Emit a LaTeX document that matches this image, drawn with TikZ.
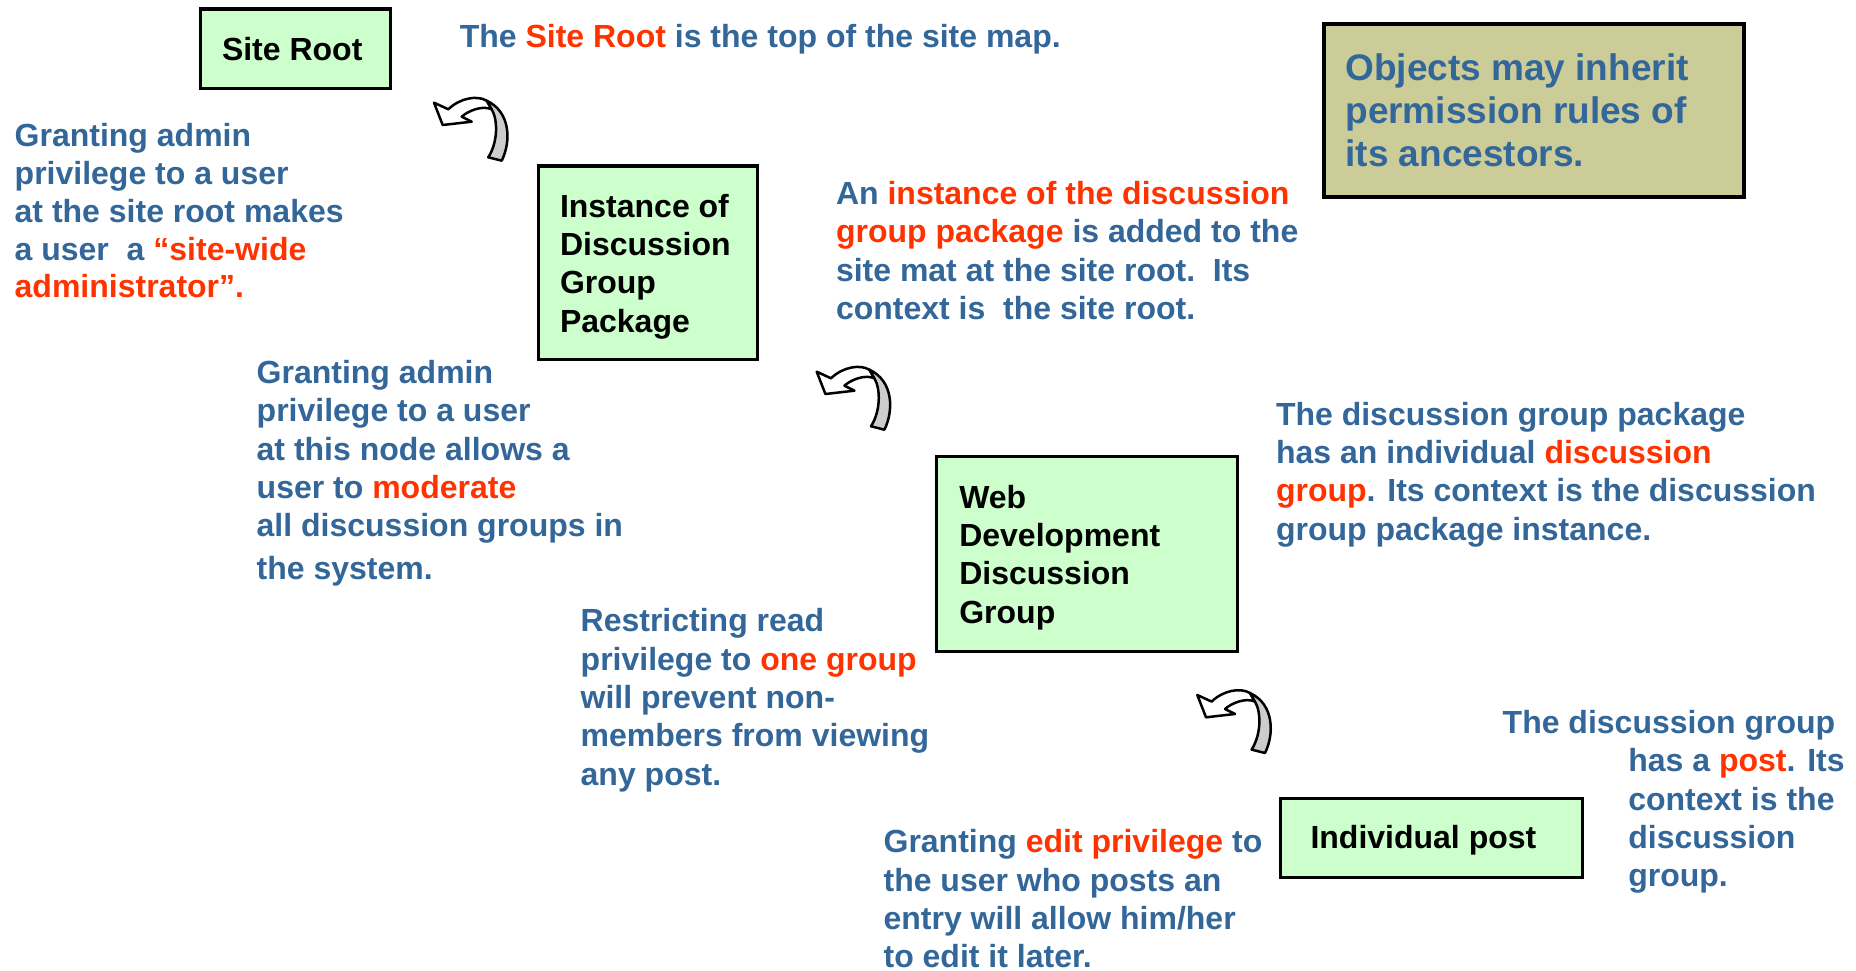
\documentclass[tikz,border=0pt]{standalone}
\usepackage{fontspec}
\setmainfont{Liberation Sans}
\definecolor{tblue}{HTML}{336699}
\definecolor{tred}{HTML}{FF3300}
\definecolor{gfill}{HTML}{CCFFCC}
\definecolor{tanfill}{HTML}{CCCC99}
\definecolor{arrgray}{HTML}{CCCCCC}
\newcommand{\redword}[1]{\textcolor{tred}{#1}}
\begin{document}
\begin{tikzpicture}[x=1pt,y=-1pt,
  txt/.style={anchor=base west, inner sep=0pt, outer sep=0pt, align=left, text=tblue,
    font=\fontsize{32}{38.3}\selectfont\bfseries},
  boxtxt/.style={txt, text=black},
  gbox/.style={draw=black, line width=3.3pt, fill=gfill, anchor=north west, inner sep=0pt, outer sep=0pt},
  tanbox/.style={draw=black, line width=4pt, fill=tanfill, anchor=north west, inner sep=0pt, outer sep=0pt},
  curlarrow/.pic={
    \filldraw[fill=white, draw=black, line width=2.5pt, line join=round]
      (14,22.7) -- (22.7,45) -- (51.7,41.7) -- (41.7,36.7)
      .. controls (48,31) and (62,25) .. (71.7,29.3)
      -- (66.7,20.7)
      .. controls (57,15) and (40,18) .. (28.3,29.3) -- cycle;
    \filldraw[fill=arrgray, draw=black, line width=2.5pt, line join=round]
      (71.7,29.3) .. controls (78,40) and (78,62) .. (68.3,77.3)
      -- (81.7,80.7)
      .. controls (91,62) and (91,32) .. (66.7,20.7) -- cycle;
  }
]
\useasboundingbox[fill=white] (0,0) rectangle (1856,971);

% boxes (text nodes are placed by the baseline of their last line)
\node[gbox, minimum width=189.7pt, minimum height=79.4pt] (root) at (200.65,8.95) {};
\node[boxtxt] (roottxt) at (222,61) {Site Root};

\node[gbox, minimum width=218.7pt, minimum height=193.4pt] (inst) at (538.65,165.95) {};
\node[boxtxt] (insttxt) at (560,332.2) {Instance of\\Discussion\\Group\\Package};

\node[gbox, minimum width=300.7pt, minimum height=194.7pt] (web) at (936.65,456.65) {};
\node[boxtxt] (webtxt) at (959.3,623.2) {Web\\Development\\Discussion\\Group};

\node[gbox, minimum width=301.7pt, minimum height=79.3pt] (post) at (1280.65,798.35) {};
\node[boxtxt] (posttxt) at (1310.5,848.3) {Individual post};

\node[tanbox, minimum width=420pt, minimum height=173.6pt] (objs) at (1324,23.7) {};
\node[txt, font=\fontsize{37}{43.3}\selectfont\bfseries] (objstxt) at (1345.4,166.6)
  {Objects may inherit\\permission rules of\\its ancestors.};

% descriptions
\node[txt] (rootdesc) at (459.8,47.7) {The \redword{Site Root} is the top of the site map.};

\node[txt, font=\fontsize{32}{37.8}\selectfont\bfseries] (rootgrant) at (14.7,297.8)
  {Granting admin\\privilege to a user\\at the site root makes\\a user\ \ a \redword{“site-wide}\\\redword{administrator”.}};

\node[txt] (instdesc) at (836,319.5)
  {An \redword{instance of the discussion}\\\redword{group package} is added to the\\site mat at the site root.\ \ Its\\context is\ \ the site root.};

\node[txt] (instgrant) at (256.7,579.3)
  {Granting admin\\privilege to a user\\at this node allows a\\user to \redword{moderate}\\all discussion groups in\\[4.3pt]the system.};

\node[txt] (webdesc) at (1276,540)
  {The discussion group package\\has an individual \redword{discussion}\\\redword{group}. Its context is the discussion\\group package instance.};

\node[txt] (webgrant) at (580.7,785)
  {Restricting read\\privilege to \redword{one group}\\will prevent non-\\members from viewing\\any post.};

\node[txt] (postdesc) at (1628.3,886.7)
  {\hspace*{-125.6pt}The discussion group\\has a \redword{post}. Its\\context is the\\discussion\\group.};

\node[txt] (postgrant) at (883.6,967.7)
  {Granting \redword{edit privilege} to\\the user who posts an\\entry will allow him/her\\to edit it later.};

% curved arrows
\pic at (420,80) {curlarrow};
\pic at (802.7,349) {curlarrow};
\pic at (1183.3,672.3) {curlarrow};
\end{tikzpicture}
\end{document}
